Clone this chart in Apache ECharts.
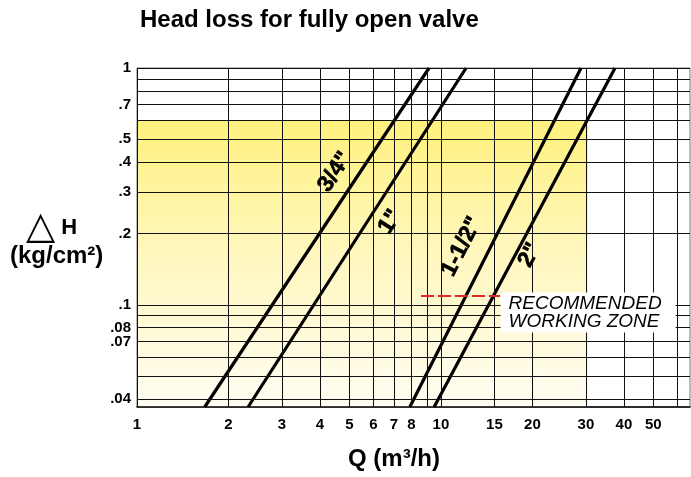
<!DOCTYPE html>
<html>
<head>
<meta charset="utf-8">
<script src="https://cdn.jsdelivr.net/npm/echarts@6/dist/echarts.min.js"></script>
<style>html,body{margin:0;padding:0;background:#fff}#c{width:691px;height:477px}</style>
</head>
<body>
<div id="c"></div>
<script>
// ---- data (Q in m3/h, H in kg/cm2) ----
const sizes = ['3/4"', '1"', '1-1/2"', '2"'];
const qAtBottom = [1.67, 2.32, 7.9, 9.5];     // Q where each line meets H = hBottom
const qAtTop = [9.14, 12.1, 28.9, 37.4];      // Q where each line meets H = hTop
const hBottom = 0.037;
const hTop = 1;
const sizeLabelQ = [4.48, 6.8, 11.7, 19.6];
const sizeLabelH = [0.364, 0.224, 0.176, 0.162];

const xTicks = [1, 2, 3, 4, 5, 6, 7, 8, 9, 10, 15, 20, 30, 40, 50, 60];
const xTickLabels = ['1', '2', '3', '4', '5', '6', '7', '8', '', '10', '15', '20', '30', '40', '50', ''];
const yTicks = [1, 0.9, 0.8, 0.7, 0.6, 0.5, 0.4, 0.3, 0.2, 0.1, 0.09, 0.08, 0.07, 0.06, 0.05, 0.04];
const yTickLabels = ['1', '', '', '.7', '', '.5', '.4', '.3', '.2', '.1', '', '.08', '.07', '', '', '.04'];

const zoneQMax = 30.5;   // recommended working zone
const zoneHMax = 0.6;
const recLineH = 0.109;
const recLineQ = [8.6, 15.65];
const recTextAnchor = [15.65, 0.0928];
const recText = 'RECOMMENDED\nWORKING ZONE';

const xMin = 1, xMax = 66, yMin = 0.037, yMax = 1;

// ---- chart ----
const FONT = 'Liberation Sans, Arial, sans-serif';
const tickFont = {color: '#000', fontWeight: 'bold', fontSize: 15, fontFamily: FONT};

const gridLineData = [];
yTicks.forEach((v, i) => gridLineData.push({
  yAxis: v,
  label: Object.assign({show: yTickLabels[i] !== '', position: 'start', distance: 6, formatter: yTickLabels[i]}, tickFont)
}));
xTicks.forEach((v, i) => gridLineData.push({
  xAxis: v,
  label: Object.assign({show: xTickLabels[i] !== '', position: 'start', distance: 10, formatter: xTickLabels[i]}, tickFont)
}));

const chart = echarts.init(document.getElementById('c'), null, {renderer: 'canvas'});

function buildOption(rotations) {
  const series = [];
  // yellow recommended zone
  series.push({
    type: 'line', data: [], z: 1, silent: true,
    markArea: {
      silent: true,
      itemStyle: {
        color: {type: 'linear', x: 0, y: 0, x2: 0, y2: 1, colorStops: [
          {offset: 0, color: '#fff17e'}, {offset: 0.45, color: '#fff7bc'}, {offset: 1, color: '#fffdf3'}
        ]}
      },
      data: [[{coord: [xMin, zoneHMax]}, {coord: [zoneQMax, yMin]}]]
    }
  });
  // grid lines with tick labels
  series.push({
    type: 'line', data: [], z: 2, silent: true,
    markLine: {
      silent: true, symbol: ['none', 'none'], animation: false,
      lineStyle: {color: '#111', width: 1, type: 'solid'},
      emphasis: {disabled: true},
      data: gridLineData
    }
  });
  // pipe size lines
  sizes.forEach((s, i) => series.push({
    type: 'line', name: s, z: 3, silent: true, symbol: 'none',
    lineStyle: {color: '#000', width: 3.2},
    data: [[qAtBottom[i], hBottom], [qAtTop[i], hTop]]
  }));
  // red dashed recommended line
  series.push({
    type: 'line', data: [], z: 3, silent: true,
    markLine: {
      silent: true, symbol: ['none', 'none'], animation: false,
      lineStyle: {color: '#e02828', width: 1.8, type: [13, 4]},
      label: {show: false},
      data: [[{coord: [recLineQ[0], recLineH]}, {coord: [recLineQ[1], recLineH]}]]
    }
  });
  // recommended text box
  series.push({
    type: 'scatter', z: 5, silent: true, symbolSize: 1,
    itemStyle: {color: 'rgba(0,0,0,0)'},
    data: [recTextAnchor],
    label: {
      show: true, position: 'right', distance: 0, formatter: recText,
      fontStyle: 'italic', fontSize: 19, lineHeight: 18, color: '#000', fontFamily: FONT,
      backgroundColor: '#fff', padding: [2, 14, 2, 8], align: 'left', opacity: 1
    }
  });
  // pipe size labels
  series.push({
    type: 'scatter', z: 6, silent: true, symbolSize: 1,
    itemStyle: {color: 'rgba(0,0,0,0)'},
    data: sizes.map((s, i) => ({
      value: [sizeLabelQ[i], sizeLabelH[i]],
      label: {
        show: true, position: 'inside', formatter: s, rotate: rotations[i], opacity: 1,
        fontSize: 23, fontWeight: 'bold', color: '#000', fontFamily: FONT,
        textBorderColor: '#000', textBorderWidth: 0.6
      }
    }))
  });

  const titleFont = {fontFamily: FONT, fontWeight: 'bold', fontSize: 24, color: '#000'};
  return {
    animation: false,
    backgroundColor: '#fff',
    title: [
      {text: 'Head loss for fully open valve', left: 140, top: 8, padding: 0, textStyle: titleFont},
      {text: 'Q (m³/h)', left: 348, top: 447, padding: 0, textStyle: titleFont},
      {text: '{t|△} H', left: 26, top: 209, padding: 0,
       textStyle: {fontFamily: FONT, fontWeight: 'bold', fontSize: 22, color: '#000',
         rich: {t: {fontFamily: 'DejaVu Sans', fontSize: 38, fontWeight: 'normal', color: '#000'}}}},
      {text: '(kg/cm²)', left: 10, top: 244, padding: 0, textStyle: titleFont}
    ],
    grid: {left: 137, right: 1, top: 68, bottom: 70, show: true, borderColor: '#777', borderWidth: 1,
           backgroundColor: 'transparent'},
    xAxis: {type: 'log', logBase: 10, min: xMin, max: xMax, z: 4,
      axisLine: {show: true, onZero: false, lineStyle: {color: '#000', width: 1.5}},
      axisTick: {show: false}, axisLabel: {show: false}, splitLine: {show: false}},
    yAxis: {type: 'log', logBase: 10, min: yMin, max: yMax,
      axisLine: {show: false}, axisTick: {show: false}, axisLabel: {show: false}, splitLine: {show: false}},
    series: series
  };
}

chart.setOption(buildOption([0, 0, 0, 0]));
// label rotation follows each line's direction on screen
const rot = sizes.map((s, i) => {
  const p0 = chart.convertToPixel({gridIndex: 0}, [qAtBottom[i], hBottom]);
  const p1 = chart.convertToPixel({gridIndex: 0}, [qAtTop[i], hTop]);
  return Math.atan2(p0[1] - p1[1], p1[0] - p0[0]) * 180 / Math.PI;
});
chart.setOption(buildOption(rot), true);
</script>
</body>
</html>
